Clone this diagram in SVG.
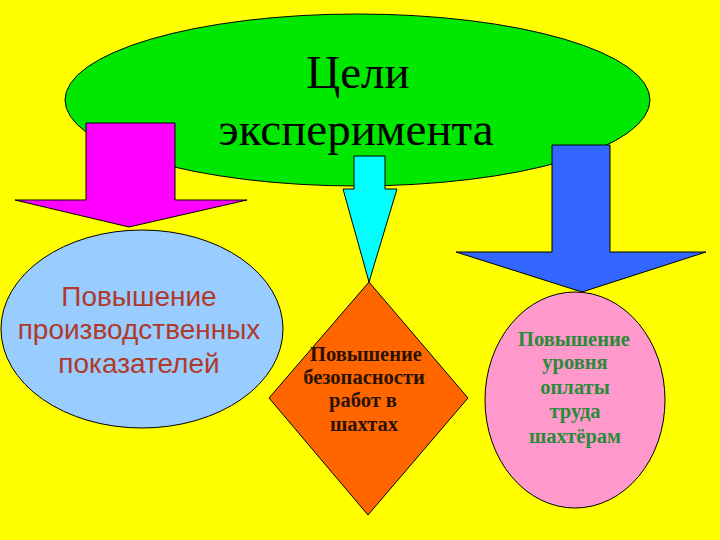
<svg xmlns="http://www.w3.org/2000/svg" width="720" height="540" viewBox="0 0 720 540">
  <style>
    .shape { stroke: #000; stroke-width: 1; }
    .title { font-family: "Liberation Serif", "Times New Roman", serif; font-size: 47px; fill: #000; text-anchor: middle; }
    .sans { font-family: "Liberation Sans", Arial, sans-serif; font-size: 28px; fill: #b03a2a; text-anchor: middle; }
    .bold { font-family: "Liberation Serif", "Times New Roman", serif; font-size: 20.5px; font-weight: bold; text-anchor: middle; }
  </style>
  <rect x="0" y="0" width="720" height="540" fill="#ffff00"/>
  <g id="goal">
    <ellipse class="shape" cx="357.5" cy="100" rx="292.5" ry="86" fill="#00e800"/>
    <text class="title" x="358" y="88">Цели</text>
    <text class="title" x="356" y="145">эксперимента</text>
  </g>
  <g id="connectors">
    <polygon class="shape" fill="#ff00ff" points="86,123 175,123 175,200 247,200 129,227 15,200 86,200"/>
    <polygon class="shape" fill="#00ffff" points="354,156 385,156 385,189 397,189 369,282 343,189 354,189"/>
    <polygon class="shape" fill="#3366ff" points="552,145 610,145 610,252 706,252 582,292 456,252 552,252"/>
  </g>
  <g id="production">
    <ellipse class="shape" cx="142" cy="329" rx="141" ry="99" fill="#99ccff"/>
    <text class="sans" x="139" y="306">Повышение</text>
    <text class="sans" x="139" y="339">производственных</text>
    <text class="sans" x="139" y="373">показателей</text>
  </g>
  <g id="safety">
    <polygon class="shape" fill="#ff6600" points="369,282 468,398 368,515 269,398"/>
    <g class="bold" fill="#2a1200">
      <text x="366" y="361">Повышение</text>
      <text x="364" y="384">безопасности</text>
      <text x="363" y="407">работ в</text>
      <text x="364" y="431">шахтах</text>
    </g>
  </g>
  <g id="pay">
    <ellipse class="shape" cx="575" cy="400" rx="90" ry="108" fill="#ff99cc"/>
    <g class="bold" fill="#2a8a3a">
      <text x="574" y="346">Повышение</text>
      <text x="575" y="369">уровня</text>
      <text x="575" y="394">оплаты</text>
      <text x="575" y="418">труда</text>
      <text x="575" y="443">шахтёрам</text>
    </g>
  </g>
</svg>
